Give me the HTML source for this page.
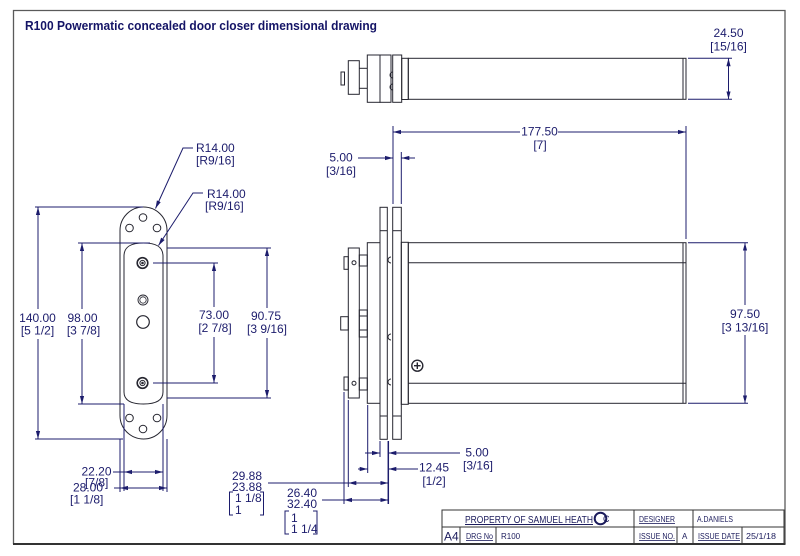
<!DOCTYPE html>
<html><head><meta charset="utf-8"><style>
html,body{margin:0;padding:0;background:#fff;}
svg{display:block;}
</style></head><body>
<svg width="800" height="556" viewBox="0 0 800 556" xmlns="http://www.w3.org/2000/svg">
<defs>
<marker id="ar" viewBox="0 0 8 6" markerWidth="8" markerHeight="6" refX="8" refY="3" orient="auto-start-reverse" markerUnits="userSpaceOnUse"><path d="M0,0.9 L8,3 L0,5.1 z" fill="#1c1c6c"/></marker>
</defs>
<rect width="800" height="556" fill="#fff"/>

<!-- border -->
<path d="M13.5,544 V10.5 H785 V544" fill="none" stroke="#5a5a5a" stroke-width="1.3"/>
<line x1="13" y1="544" x2="785.5" y2="544" stroke="#333" stroke-width="2"/>

<!-- title -->
<text x="25" y="30" font-family="Liberation Sans, DejaVu Sans, sans-serif" font-weight="bold" font-size="13" fill="#141466" textLength="352" lengthAdjust="spacingAndGlyphs">R100 Powermatic concealed door closer dimensional drawing</text>

<!-- ===== drawing geometry ===== -->
<g fill="none" stroke="#262630" stroke-width="1">
  <!-- top view -->
  <rect x="341" y="72" width="3.5" height="13"/>
  <rect x="348.3" y="60.7" width="11" height="33.6"/>
  <line x1="359.3" y1="68.3" x2="367.3" y2="68.3"/>
  <line x1="359.3" y1="88.3" x2="367.3" y2="88.3"/>
  <rect x="367.3" y="55" width="12.7" height="47.3"/>
  <rect x="380" y="55" width="11" height="47.3"/>
  <rect x="392.7" y="55" width="9" height="47.3"/>
  <path d="M393,72 a3,3 0 0 0 0,6 M393,84 a3,3 0 0 0 0,6"/>
  <rect x="401.7" y="58.3" width="6.6" height="41.2"/>
  <rect x="408.3" y="58.3" width="277.7" height="41"/>
  <line x1="683" y1="58.3" x2="683" y2="99.3"/>

  <!-- left view: outer plate -->
  <path d="M120,230.5 A23.5,23.5 0 0 1 167,230.5 L167,415.5 A23.5,23.5 0 0 1 120,415.5 Z"/>
  <!-- inner plate -->
  <path d="M124,256 C124,246 132,243 143.5,243 C155,243 163,246 163,256 L163,392 C163,401 155,404 143.5,404 C132,404 124,401 124,392 Z"/>
  <!-- outer holes -->
  <circle cx="143" cy="217.5" r="3.8"/>
  <circle cx="129.5" cy="228" r="3.8"/>
  <circle cx="157" cy="228" r="3.8"/>
  <circle cx="129.5" cy="418" r="3.8"/>
  <circle cx="157" cy="418" r="3.8"/>
  <circle cx="143" cy="429" r="3.8"/>
  <!-- inner holes -->
  <circle cx="142.5" cy="263" r="5.3" stroke-width="1.6"/>
  <circle cx="142.5" cy="263" r="2.6"/>
  <circle cx="142.5" cy="263" r="0.8" fill="#262630"/>
  <circle cx="142.5" cy="383" r="5.3" stroke-width="1.6"/>
  <circle cx="142.5" cy="383" r="2.6"/>
  <circle cx="142.5" cy="383" r="0.8" fill="#262630"/>
  <circle cx="143" cy="300" r="5" stroke-width="0.9"/>
  <circle cx="143" cy="300" r="3.2" stroke-width="0.8"/>
  <circle cx="143" cy="322" r="6.3" stroke-width="1.2"/>

  <!-- side view -->
  <rect x="380" y="207.3" width="7.3" height="232"/>
  <line x1="380" y1="230.7" x2="387.3" y2="230.7"/>
  <line x1="380" y1="416" x2="387.3" y2="416"/>
  <rect x="392.7" y="207.3" width="8.6" height="232"/>
  <line x1="392.7" y1="230.7" x2="401.3" y2="230.7"/>
  <line x1="392.7" y1="416" x2="401.3" y2="416"/>
  <rect x="401.3" y="242.3" width="7" height="162"/>
  <rect x="408.3" y="242.7" width="277.7" height="160.6"/>
  <line x1="408.3" y1="262.7" x2="686" y2="262.7"/>
  <line x1="408.3" y1="383.3" x2="686" y2="383.3"/>
  <line x1="683" y1="242.7" x2="683" y2="403.3"/>
  <rect x="367.3" y="242.7" width="12.7" height="160.6"/>
  <rect x="348.3" y="248" width="11" height="150"/>
  <rect x="359.3" y="255" width="8" height="11"/>
  <rect x="359.3" y="310" width="8" height="27"/>
  <line x1="359.3" y1="316" x2="367.3" y2="316"/>
  <line x1="359.3" y1="330" x2="367.3" y2="330"/>
  <rect x="359.3" y="378" width="8" height="12"/>
  <rect x="344" y="256.7" width="4.3" height="12.6"/>
  <rect x="340.7" y="316.7" width="7.6" height="13.3"/>
  <rect x="344" y="377" width="4.3" height="13"/>
  <circle cx="354" cy="262.7" r="2"/>
  <circle cx="354" cy="383.3" r="2"/>
  <path d="M391,257 a3,3 0 0 0 0,6 M391,334 a3,3 0 0 0 0,6 M391,379 a3,3 0 0 0 0,6"/>
  <circle cx="417.3" cy="365.7" r="5.5" stroke-width="1.4"/>
  <line x1="414" y1="365.7" x2="420.6" y2="365.7" stroke-width="1.4"/>
  <line x1="417.3" y1="362.4" x2="417.3" y2="369" stroke-width="1.4"/>
</g>

<!-- ===== dimensions ===== -->
<g fill="none" stroke="#1c1c6c" stroke-width="1">
  <!-- 24.50 -->
  <line x1="688" y1="58.3" x2="732" y2="58.3"/>
  <line x1="688" y1="99.3" x2="732" y2="99.3"/>
  <line x1="728.5" y1="58.3" x2="728.5" y2="99.3" marker-start="url(#ar)" marker-end="url(#ar)"/>
  <!-- 177.50 -->
  <line x1="393" y1="126" x2="393" y2="204"/>
  <line x1="686" y1="126" x2="686" y2="239"/>
  <line x1="520" y1="132" x2="393" y2="132" marker-end="url(#ar)"/>
  <line x1="558" y1="132" x2="686" y2="132" marker-end="url(#ar)"/>
  <!-- top 5.00 -->
  <line x1="401.3" y1="152" x2="401.3" y2="204"/>
  <line x1="358" y1="158" x2="393" y2="158" marker-end="url(#ar)"/>
  <line x1="415" y1="158" x2="401.3" y2="158" marker-end="url(#ar)"/>
  <!-- 97.50 -->
  <line x1="688" y1="242.7" x2="748" y2="242.7"/>
  <line x1="688" y1="403.3" x2="748" y2="403.3"/>
  <line x1="745" y1="305" x2="745" y2="242.7" marker-end="url(#ar)"/>
  <line x1="745" y1="335" x2="745" y2="403.3" marker-end="url(#ar)"/>

  <!-- side view bottom extension lines -->
  <line x1="344" y1="392" x2="344" y2="504"/>
  <line x1="348.3" y1="400" x2="348.3" y2="487"/>
  <line x1="367.7" y1="405" x2="367.7" y2="473"/>
  <line x1="380" y1="441" x2="380" y2="457"/>
  <line x1="388.3" y1="441" x2="388.3" y2="504" stroke-width="1.5"/>
  <!-- bottom 5.00 -->
  <line x1="365" y1="453" x2="380" y2="453" marker-end="url(#ar)"/>
  <line x1="460" y1="453" x2="388.3" y2="453" marker-end="url(#ar)"/>
  <!-- 12.45 -->
  <line x1="358" y1="469" x2="367.7" y2="469" marker-end="url(#ar)"/>
  <line x1="418" y1="469" x2="388.3" y2="469" marker-end="url(#ar)"/>
  <!-- 29.88 -->
  <line x1="268" y1="483" x2="348.3" y2="483"/>
  <line x1="368" y1="483" x2="348.3" y2="483" marker-end="url(#ar)"/>
  <line x1="368" y1="483" x2="388.3" y2="483" marker-end="url(#ar)"/>
  <!-- 26.40 -->
  <line x1="322" y1="500" x2="344" y2="500"/>
  <line x1="366" y1="500" x2="344" y2="500" marker-end="url(#ar)"/>
  <line x1="366" y1="500" x2="388.3" y2="500" marker-end="url(#ar)"/>
  <!-- brackets -->
  <path d="M233,492 H229.5 V515 H233 M260,492 H263.5 V515 H260"/>
  <path d="M289,511 H285 V534 H289 M313,511 H317 V534 H313"/>

  <!-- left view dims -->
  <!-- 140 -->
  <line x1="35" y1="207" x2="143" y2="207"/>
  <line x1="35" y1="439" x2="123" y2="439"/>
  <line x1="38" y1="309" x2="38" y2="207" marker-end="url(#ar)"/>
  <line x1="38" y1="339" x2="38" y2="439" marker-end="url(#ar)"/>
  <!-- 98 -->
  <line x1="78" y1="243" x2="150" y2="243"/>
  <line x1="78" y1="404" x2="124" y2="404"/>
  <line x1="82" y1="309" x2="82" y2="243" marker-end="url(#ar)"/>
  <line x1="82" y1="339" x2="82" y2="404" marker-end="url(#ar)"/>
  <!-- 73 -->
  <line x1="153" y1="263" x2="218" y2="263"/>
  <line x1="153" y1="383" x2="218" y2="383"/>
  <line x1="214" y1="307" x2="214" y2="263" marker-end="url(#ar)"/>
  <line x1="214" y1="337" x2="214" y2="383" marker-end="url(#ar)"/>
  <!-- 90.75 -->
  <line x1="167" y1="248" x2="271" y2="248"/>
  <line x1="167" y1="398" x2="271" y2="398"/>
  <line x1="267" y1="308" x2="267" y2="248" marker-end="url(#ar)"/>
  <line x1="267" y1="338" x2="267" y2="398" marker-end="url(#ar)"/>
  <!-- R14 leaders -->
  <path d="M193,148 H183 L155.5,208.5" marker-end="url(#ar)"/>
  <path d="M203,193 H193 L158.5,245.5" marker-end="url(#ar)"/>
  <!-- 22.20 / 28.00 ext lines -->
  <line x1="124" y1="404" x2="124" y2="491"/>
  <line x1="163" y1="404" x2="163" y2="491"/>
  <line x1="120" y1="439" x2="120" y2="492"/>
  <line x1="167" y1="439" x2="167" y2="492"/>
  <line x1="113" y1="472" x2="143" y2="472"/>
  <line x1="143" y1="472" x2="124" y2="472" marker-end="url(#ar)"/>
  <line x1="143" y1="472" x2="163" y2="472" marker-end="url(#ar)"/>
  <line x1="114" y1="488" x2="143" y2="488"/>
  <line x1="143" y1="488" x2="120" y2="488" marker-end="url(#ar)"/>
  <line x1="143" y1="488" x2="167" y2="488" marker-end="url(#ar)"/>
</g>

<!-- dimension texts -->
<g font-family="Liberation Sans, DejaVu Sans, sans-serif" font-size="12" fill="#1c1c6c" text-anchor="middle">
  <text x="728.5" y="37">24.50</text>
  <text x="728.5" y="50.5">[15/16]</text>
  <text x="539.5" y="135.5">177.50</text>
  <text x="540" y="149">[7]</text>
  <text x="341" y="161.5">5.00</text>
  <text x="341" y="175">[3/16]</text>
  <text x="745" y="318">97.50</text>
  <text x="745" y="331.5">[3 13/16]</text>
  <text x="477" y="456.5">5.00</text>
  <text x="478" y="469.5">[3/16]</text>
  <text x="434" y="471.5">12.45</text>
  <text x="434" y="485">[1/2]</text>
  <text x="247" y="480">29.88</text>
  <text x="247" y="491">23.88</text>
  <text x="302" y="497">26.40</text>
  <text x="302" y="508">32.40</text>
  <text x="37.5" y="322">140.00</text>
  <text x="37.5" y="334.5">[5 1/2]</text>
  <text x="82.5" y="322">98.00</text>
  <text x="83.5" y="334.5">[3 7/8]</text>
  <text x="214" y="319">73.00</text>
  <text x="215" y="332">[2 7/8]</text>
  <text x="266" y="320">90.75</text>
  <text x="267" y="333">[3 9/16]</text>
</g>
<g font-family="Liberation Sans, DejaVu Sans, sans-serif" font-size="12" fill="#1c1c6c">
  <text x="196" y="152">R14.00</text>
  <text x="196" y="164.5">[R9/16]</text>
  <text x="207" y="198">R14.00</text>
  <text x="205" y="210">[R9/16]</text>
  <text x="235" y="502">1 1/8</text>
  <text x="235" y="514">1</text>
  <text x="291" y="522">1</text>
  <text x="291" y="533">1 1/4</text>
  <text x="111.5" y="475.5" text-anchor="end">22.20</text>
  <text x="85" y="486.5">[7/8]</text>
  <text x="73" y="491.5">28.00</text>
  <text x="70" y="503.5">[1 1/8]</text>
</g>

<!-- title block -->
<g fill="none" stroke="#333" stroke-width="1">
  <rect x="442" y="510" width="342" height="34"/>
  <line x1="442" y1="527" x2="784" y2="527"/>
  <line x1="634" y1="510" x2="634" y2="544"/>
  <line x1="693" y1="510" x2="693" y2="544"/>
  <line x1="460" y1="527" x2="460" y2="544"/>
  <line x1="496" y1="527" x2="496" y2="544"/>
  <line x1="677" y1="527" x2="677" y2="544"/>
  <line x1="742" y1="527" x2="742" y2="544"/>
</g>
<g font-family="Liberation Sans, DejaVu Sans, sans-serif" fill="#1c1c5c">
  <text x="465" y="523" font-size="10" textLength="128" lengthAdjust="spacingAndGlyphs" text-decoration="underline">PROPERTY OF SAMUEL HEATH</text>
  <circle cx="600.5" cy="518.5" r="5.8" fill="none" stroke="#1c1c5c" stroke-width="2"/>
  <text x="603" y="522" font-size="9">C</text>
  <text x="639" y="522" font-size="8" textLength="36" lengthAdjust="spacingAndGlyphs" text-decoration="underline">DESIGNER</text>
  <text x="697" y="522" font-size="8" textLength="36" lengthAdjust="spacingAndGlyphs">A.DANIELS</text>
  <text x="444" y="540.5" font-size="12">A4</text>
  <text x="466" y="539" font-size="8" textLength="27" lengthAdjust="spacingAndGlyphs" text-decoration="underline">DRG No</text>
  <text x="501" y="539" font-size="8">R100</text>
  <text x="639" y="539" font-size="8" textLength="36" lengthAdjust="spacingAndGlyphs" text-decoration="underline">ISSUE NO.</text>
  <text x="682" y="539" font-size="8">A</text>
  <text x="698" y="539" font-size="8" textLength="42" lengthAdjust="spacingAndGlyphs" text-decoration="underline">ISSUE DATE</text>
  <text x="746" y="539" font-size="8" textLength="30" lengthAdjust="spacingAndGlyphs">25/1/18</text>
</g>
</svg>
</body></html>
